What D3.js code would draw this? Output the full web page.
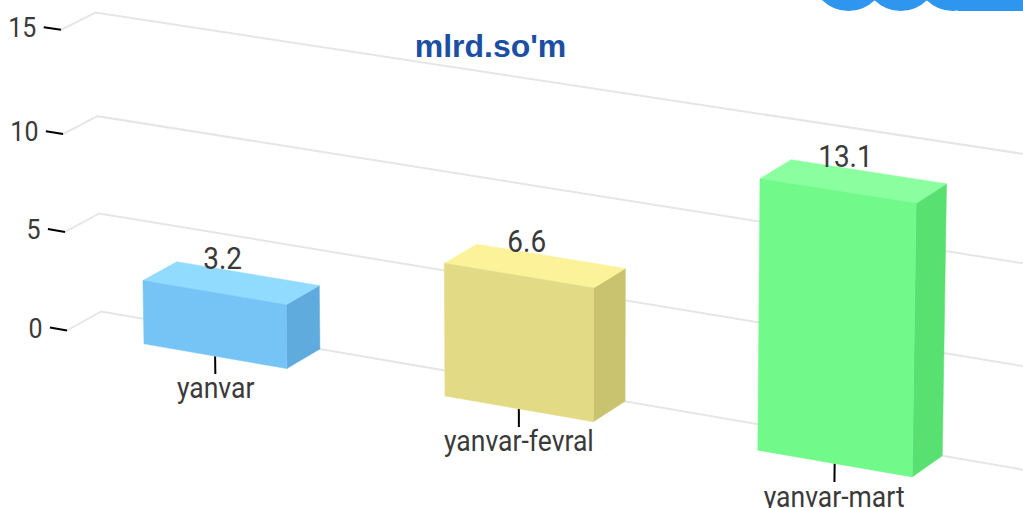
<!DOCTYPE html>
<html><head><meta charset="utf-8">
<style>html,body{margin:0;padding:0;background:#fff;overflow:hidden}svg{display:block}text{font-family:Roboto,sans-serif;fill:#3a3a3a}</style>
<script src="https://cdnjs.cloudflare.com/ajax/libs/d3/7.8.5/d3.min.js"></script>
</head><body><svg id="c" width="1023" height="508"></svg>
<script>
const categories = ["yanvar", "yanvar-fevral", "yanvar-mart"];
const values = [3.2, 6.6, 13.1];
const valueLabels = ["3.2", "6.6", "13.1"];
const yTicks = [0, 5, 10, 15];
const title = "mlrd.so'm";
const frontColors = ["#76c3f6", "#e2da85", "#71f98a"];
const topColors = ["#90dbff", "#fbf29a", "#8bff9f"];
const sideColors = ["#60abdd", "#c9c26e", "#58e071"];
const logoBumps = [0, 1, 2];

const svg = d3.select("#c");
const x = d3.scaleBand().domain(categories).range([0.6, 873.6]).paddingInner(0.5205).paddingOuter(0.26);
const y = d3.scaleLinear().domain(yTicks).range([0, 99.5, 197.5, 301]);
const gridEnd = 960;
// perspective camera: u along categories, h up the value axis, d into the depth
function project(u, h, d) {
  const w = 1 - 6.5e-5 * u - 4e-5 * h + 0.0066 * d;
  return [(67 + u - 0.0224 * h + 34.7 * d) / w, (330.5 + 0.1525 * u - h - 17 * d) / w];
}
const line = d3.line();

// logo fragment
const logo = svg.append("g").attr("fill", "#2e96ee");
const bump = d3.scalePoint().domain(logoBumps).range([848.5, 953]);
logo.selectAll("circle").data(logoBumps).join("circle")
  .attr("cx", d => bump(d)).attr("cy", -26).attr("r", 37);
logo.append("rect").attr("x", 958).attr("y", 0).attr("width", 65).attr("height", 11);

// grid
svg.append("g").selectAll("path").data(yTicks).join("path")
  .attr("fill", "none").attr("stroke", "#e6e6e6").attr("stroke-width", 2)
  .attr("d", v => line([project(0, y(v), 0), project(0, y(v), 1), project(gridEnd, y(v), 1)]));

// value axis ticks + labels
svg.append("g").selectAll("path").data(yTicks).join("path")
  .attr("fill", "none").attr("stroke", "#000").attr("stroke-width", 2)
  .attr("d", v => line([project(-17, y(v), 0), project(0, y(v), 0)]));
svg.append("g").selectAll("text").data(yTicks).join("text")
  .attr("text-anchor", "end").attr("font-size", 28)
  .attr("transform", v => { const p = project(-17, y(v), 0); return `translate(${p[0] - 7.5},${p[1] + 10}) scale(0.89,1)`; })
  .text(v => v);

// category ticks (behind bars)
const centre = c => x(c) + x.bandwidth() / 2;
svg.append("g").selectAll("path").data(categories).join("path")
  .attr("fill", "none").attr("stroke", "#000").attr("stroke-width", 2)
  .attr("d", c => line([project(centre(c), 0, 0), project(centre(c), -18, 0)]));

// bars
const bars = svg.append("g").selectAll("g").data(categories).join("g");
bars.each(function (c, i) {
  const u0 = x(c), u1 = u0 + x.bandwidth(), h = y(values[i]), g = d3.select(this);
  const face = (pts, col) => g.append("path").attr("fill", col).attr("stroke", col).attr("stroke-width", 0.5)
    .attr("d", line(pts) + "Z");
  face([project(u1, 0, 0), project(u1, 0, 1), project(u1, h, 1), project(u1, h, 0)], sideColors[i]);
  face([project(u0, h, 0), project(u1, h, 0), project(u1, h, 1), project(u0, h, 1)], topColors[i]);
  face([project(u0, 0, 0), project(u1, 0, 0), project(u1, h, 0), project(u0, h, 0)], frontColors[i]);
});

// category labels
svg.append("g").selectAll("text").data(categories).join("text")
  .attr("text-anchor", "middle").attr("font-size", 29)
  .attr("transform", c => { const p = project(centre(c), -42, 0); return `translate(${p[0]},${p[1]}) scale(0.915,1)`; })
  .text(c => c);

// value labels
svg.append("g").selectAll("text").data(categories).join("text")
  .attr("text-anchor", "middle").attr("font-size", 31)
  .attr("transform", (c, i) => { const p = project(centre(c), y(values[i]), 0.25); return `translate(${p[0]},${p[1] - 19}) scale(0.9,1)`; })
  .text((c, i) => valueLabels[i]);

// title
svg.append("text").attr("x", 490.5).attr("y", 57).attr("text-anchor", "middle")
  .style("font-family", "'Liberation Sans',Arial,sans-serif").style("font-weight", "bold")
  .style("fill", "#1b4fa3").attr("font-size", 32).text(title);
</script></body></html>
